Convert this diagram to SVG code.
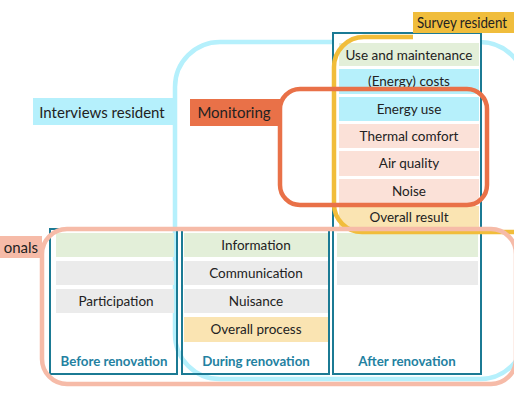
<svg xmlns="http://www.w3.org/2000/svg" width="514" height="403" viewBox="0 0 514 403">
<style>
text{font-family:Lato,"Liberation Sans",sans-serif;fill:#222;text-anchor:middle}
.row{font-size:13.5px}
.lab{font-size:15px}
.title{font-size:13.3px;font-weight:bold;fill:#2381A1}
.col{fill:none;stroke:#1B7A94;stroke-width:2}
.green{fill:#E3EFD9}.blue{fill:#B6F0FB}.pink{fill:#FBE1D8}.yellow{fill:#FAE4B2}.grey{fill:#EBEBEB}
.outline{fill:none;stroke-width:4.5}
</style>
<rect width="514" height="403" fill="#fff"/>
<g id="groupings">
<rect id="interviews-resident-outline" x="175" y="42" width="350" height="337" rx="45" class="outline" stroke="#B5F0FC"/>
</g>
<g id="col-before"><rect x="50" y="229" width="127" height="145" class="col"/></g>
<g id="col-during"><rect x="182" y="229" width="147" height="145" class="col"/></g>
<g id="col-after"><rect x="333" y="33" width="148" height="341" class="col" style="fill:#fff"/></g>
<g id="row-use"><rect x="339" y="43" width="140" height="23" class="green"/><text class="row" x="409" y="59.5">Use and maintenance</text></g>
<g id="row-costs"><rect x="339" y="69" width="140" height="25" class="blue"/><text class="row" x="409" y="86">(Energy) costs</text></g>
<g id="row-energy"><rect x="339" y="97" width="140" height="24" class="blue"/><text class="row" x="409" y="113.5">Energy use</text></g>
<g id="row-thermal"><rect x="339" y="124" width="140" height="24" class="pink"/><text class="row" x="409" y="140.5">Thermal comfort</text></g>
<g id="row-air"><rect x="339" y="151" width="140" height="25" class="pink"/><text class="row" x="409" y="168">Air quality</text></g>
<g id="row-noise"><rect x="339" y="179" width="140" height="24" class="pink"/><text class="row" x="409" y="195.5">Noise</text></g>
<g id="row-result"><rect x="339" y="206" width="140" height="22" class="yellow"/><text class="row" x="409" y="221.5">Overall result</text></g>
<g id="row-after-green"><rect x="337" y="233" width="141" height="24" class="green"/></g>
<g id="row-after-grey"><rect x="337" y="261" width="141" height="24" class="grey"/></g>
<g id="row-before-green"><rect x="56" y="233" width="118" height="24" class="green"/></g>
<g id="row-before-grey"><rect x="56" y="261" width="118" height="24" class="grey"/></g>
<g id="row-participation"><rect x="56" y="289" width="118" height="24" class="grey"/><text class="row" x="116" y="305.5">Participation</text></g>
<g id="row-information"><rect x="184" y="233" width="144" height="24" class="green"/><text class="row" x="256" y="249.5">Information</text></g>
<g id="row-communication"><rect x="184" y="261" width="144" height="24" class="grey"/><text class="row" x="256" y="277.5">Communication</text></g>
<g id="row-nuisance"><rect x="184" y="289" width="144" height="24" class="grey"/><text class="row" x="256" y="305.5">Nuisance</text></g>
<g id="row-process"><rect x="184" y="317" width="144" height="25" class="yellow"/><text class="row" x="256" y="334">Overall process</text></g>
<g id="title-before"><text class="title" x="114" y="365.5">Before renovation</text></g>
<g id="title-during"><text class="title" x="256" y="365.5">During renovation</text></g>
<g id="title-after"><text class="title" x="407" y="365.5">After renovation</text></g>
<g id="outlines-top">
<path id="survey-outline" d="M413 37 H364 A30 30 0 0 0 334 67 V204 A28 28 0 0 0 362 232 H530" class="outline" stroke="#F1BD3A"/>
<rect id="monitoring-outline" x="280" y="89" width="207" height="116" rx="20" class="outline" stroke="#E97148"/>
<rect id="professionals-outline" x="42" y="229" width="474" height="155" rx="25" class="outline" stroke="#F6BBA8"/>
</g>
<g id="label-interviews"><rect x="33" y="98" width="142" height="27" fill="#B5F0FC"/><text class="lab" x="102" y="117.5">Interviews resident</text></g>
<g id="label-monitoring"><rect x="190" y="99" width="90" height="27" fill="#E97148"/><text class="lab" x="234" y="117.5">Monitoring</text></g>
<g id="label-survey"><rect x="413" y="12" width="110" height="21" fill="#F0BD3C"/><text class="lab" x="417" y="28" style="text-anchor:start;font-size:14.5px" textLength="90" lengthAdjust="spacingAndGlyphs">Survey resident</text></g>
<g id="label-professionals"><rect x="-2" y="236" width="44" height="22" fill="#F6BBA8"/><text class="lab" x="38" y="253" style="text-anchor:end">onals</text></g>
</svg>
